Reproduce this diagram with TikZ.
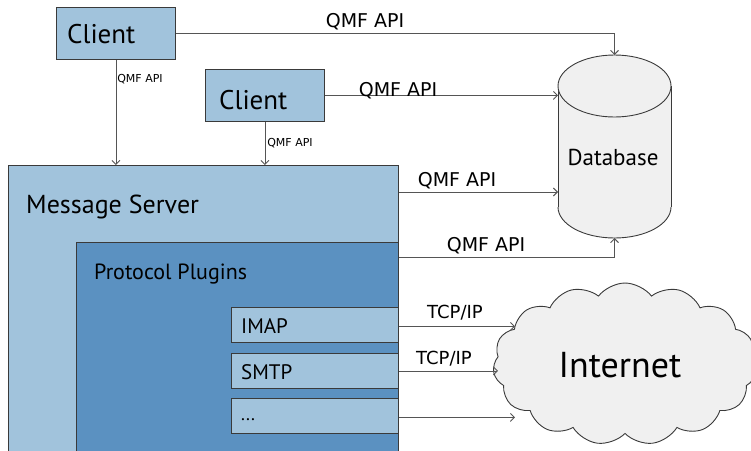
\documentclass[tikz,border=0pt]{standalone}
\usepackage{fontspec}
\setmainfont{PT Sans}
\newfontfamily\labfont{DejaVu Sans}
\usetikzlibrary{arrows.meta,shapes.symbols}
\definecolor{lightbox}{HTML}{A1C3DC}
\definecolor{darkbox}{HTML}{5B91C1}
\definecolor{dbfill}{HTML}{F0F0F0}
\definecolor{edge}{HTML}{3A3A3A}
\definecolor{wire}{HTML}{555555}
\begin{document}
\begin{tikzpicture}[x=1pt,y=-1pt,
 box/.style={draw=edge, line width=0.9pt, fill=lightbox, inner sep=0pt, anchor=north west},
 wirearrow/.style={draw=wire, line width=0.9pt, -{Straight Barb[length=4pt,width=8pt]}},
 biglab/.style={font=\labfont\fontsize{19}{22}\selectfont, inner sep=0pt},
 smalllab/.style={font=\labfont\fontsize{11}{13}\selectfont, inner sep=0pt},
 tcplab/.style={font=\labfont\fontsize{18}{21}\selectfont, inner sep=0pt},
 boxtext/.style={inner sep=0pt, anchor=west},
]
\useasboundingbox (0,0) rectangle (751,450);
\clip (0,0) rectangle (751,450);

% boxes
\node[box, minimum width=119pt, minimum height=52pt] (c1) at (56,7) {};
\node[box, minimum width=119pt, minimum height=52pt] (c2) at (205,69) {};
\node[box, minimum width=390pt, minimum height=300pt] (ms) at (8,165) {};
\node[box, fill=darkbox, minimum width=322pt, minimum height=230pt] (pp) at (76,242) {};
\node[box, minimum width=167pt, minimum height=35pt] (imap) at (231,307) {};
\node[box, minimum width=167pt, minimum height=35pt] (smtp) at (231,353) {};
\node[box, minimum width=167pt, minimum height=35pt] (dots) at (231,398) {};

\node[boxtext, font=\fontsize{27}{30}\selectfont] (c1t) at (67,34) {Client};
\node[boxtext, font=\fontsize{27}{30}\selectfont] (c2t) at (219,100) {Client};
\node[boxtext, font=\fontsize{26}{30}\selectfont] (mst) at (26,207) {Message Server};
\node[boxtext, font=\fontsize{22}{26}\selectfont] (ppt) at (94,274) {Protocol Plugins};
\node[boxtext, font=\fontsize{21}{24}\selectfont] (imapt) at (241,326) {IMAP};
\node[boxtext, font=\fontsize{21}{24}\selectfont] (smtpt) at (241,372) {SMTP};
\node[boxtext, font=\fontsize{18}{20}\selectfont] (dotst) at (241,420) {...};

% database
\fill[dbfill] (558,86) rectangle (671,207);
\fill[dbfill] (614.5,207) ellipse[x radius=56.5pt, y radius=31pt];
\begin{scope}
\clip (550,207) rectangle (680,250);
\draw[edge, line width=0.9pt] (614.5,207) ellipse[x radius=56.5pt, y radius=31pt];
\end{scope}
\draw[edge, line width=0.9pt] (558,86) -- (558,207) (671,86) -- (671,207);
\filldraw[draw=edge, fill=dbfill, line width=0.9pt] (614.5,86) ellipse[x radius=56.5pt, y radius=31pt];
\node[inner sep=0pt, font=\fontsize{23}{26}\selectfont] (db) at (613,157) {Database};
\coordinate (dbtop) at (614.5,55);
\coordinate (dbbot) at (614.5,238);
\coordinate (dbleft) at (558,150);

% cloud
\node[cloud, cloud puffs=15, cloud puff arc=105, aspect=1.6, draw=edge, fill=dbfill, line width=0.9pt,
      minimum width=264pt, minimum height=162pt, inner sep=0pt] (inet) at (625,364) {};
\node[inner sep=0pt, font=\fontsize{36}{40}\selectfont] (inett) at (620,365) {Internet};
\coordinate (tipa) at (515,0);
\coordinate (tipb) at (498,0);

% connectors
\draw[wirearrow] (c1.south) -- (c1.south |- ms.north);
\draw[wirearrow] (c2.south) -- (c2.south |- ms.north);
\draw[wirearrow] (c1.east) -- (c1.east -| dbtop) -- (dbtop);
\draw[wirearrow] (c2.east) -- (c2.east -| dbleft);
\draw[wirearrow] ([yshift=-27pt]ms.north east) -- ([yshift=-27pt]ms.north east -| dbleft);
\draw[wirearrow] ([yshift=-15pt]pp.north east) -- ([yshift=-15pt]pp.north east -| dbbot) -- (dbbot);
\draw[wirearrow] ([yshift=-1.5pt]imap.east) -- ([yshift=-1.5pt]imap.east -| tipa);
\draw[wirearrow] (smtp.east) -- (smtp.east -| tipb);
\draw[wirearrow] ([yshift=-1.5pt]dots.east) -- ([yshift=-1.5pt]dots.east -| tipa);

% labels
\node[biglab] (l1) at (365,22) {QMF API};
\node[biglab] (l2) at (398,91) {QMF API};
\node[biglab] (l3) at (457,181) {QMF API};
\node[biglab] (l4) at (486,246) {QMF API};
\node[smalllab] (s1) at (140,79) {QMF API};
\node[smalllab] (s2) at (290,143) {QMF API};
\node[tcplab] (t1) at (455,313) {TCP/IP};
\node[tcplab] (t2) at (444,359) {TCP/IP};
\end{tikzpicture}
\end{document}
